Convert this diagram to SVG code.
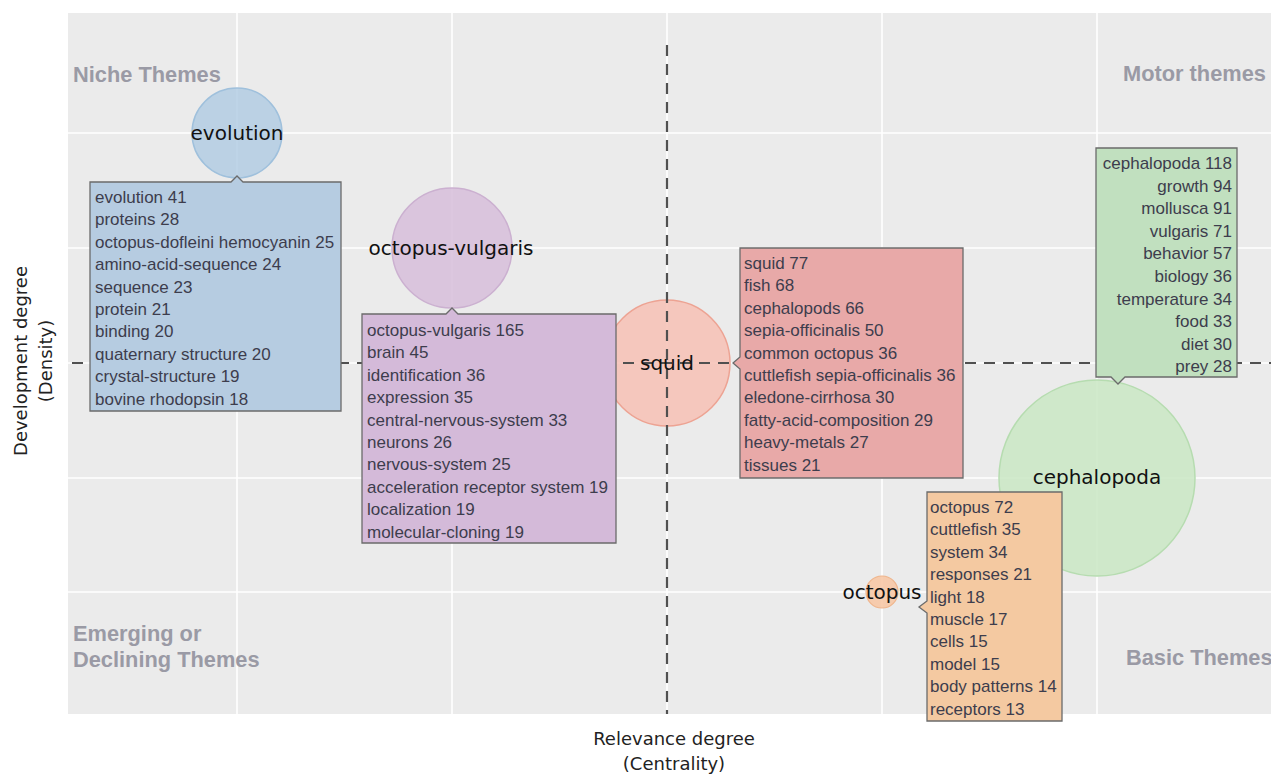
<svg xmlns="http://www.w3.org/2000/svg" width="1271" height="774" viewBox="0 0 1271 774">
<style>
.grid{stroke:#ffffff;stroke-width:1.6;fill:none}
.axis{stroke:#505050;stroke-width:2.2;stroke-dasharray:11 8;fill:none}
.quad{font-family:"Liberation Sans",Arial,sans-serif;font-weight:bold;font-size:21.8px;fill:#9a9aa5}
.axlab{font-family:"DejaVu Sans",Verdana,sans-serif;font-size:18px;fill:#222}
.blab{font-family:"DejaVu Sans",Verdana,sans-serif;font-size:20px;fill:#111;text-anchor:middle}
.tip{stroke:#6b6b6b;stroke-width:1.3}
.tt{font-family:"Liberation Sans",Arial,sans-serif;font-size:17px;fill:#3d3d4d}
</style>
<rect x="0" y="0" width="1271" height="774" fill="#ffffff"/>
<g id="plot-background">
<rect x="68" y="13" width="1203" height="701" fill="#ebebeb"/>
<path class="grid" d="M237,13V714M452,13V714M667,13V714M882,13V714M1097,13V714M68,133H1271M68,248H1271M68,363H1271M68,478H1271M68,592H1271"/>
</g>
<g id="quadrant-labels">
<text class="quad" x="73" y="82">Niche Themes</text>
<text class="quad" x="1123" y="81">Motor themes</text>
<text class="quad" x="73" y="641">Emerging or</text>
<text class="quad" x="73" y="667">Declining Themes</text>
<text class="quad" x="1126" y="665">Basic Themes</text>
</g>
<g id="axis-titles">
<text class="axlab" x="674" y="745" text-anchor="middle">Relevance degree</text>
<text class="axlab" x="674" y="770" text-anchor="middle">(Centrality)</text>
<text class="axlab" transform="translate(27,361) rotate(-90)" text-anchor="middle">Development degree</text>
<text class="axlab" transform="translate(52,361) rotate(-90)" text-anchor="middle">(Density)</text>
</g>
<g id="bubble-evolution">
<circle cx="237" cy="133" r="45" fill="#b3cde3" fill-opacity="0.85" stroke="#9fc0dc" stroke-width="1.5"/>
</g>
<g id="bubble-octopus-vulgaris">
<circle cx="452" cy="248" r="60" fill="#d8c1dc" fill-opacity="0.9" stroke="#cbb0d0" stroke-width="1.5"/>
</g>
<g id="bubble-squid">
<circle cx="667" cy="363" r="63" fill="#f6c3b8" fill-opacity="0.9" stroke="#eda393" stroke-width="1.5"/>
</g>
<g id="bubble-cephalopoda">
<circle cx="1097" cy="478" r="98" fill="#cce8c6" fill-opacity="0.9" stroke="#b6dcb0" stroke-width="1.5"/>
</g>
<g id="bubble-octopus">
<circle cx="882" cy="592" r="16" fill="#f7c8a6" fill-opacity="0.9" stroke="#efb58c" stroke-width="1.2"/>
</g>
<g id="connectors">
<path class="axis" d="M667,45V714"/>
<path class="axis" d="M72,363H1271"/>
</g>
<g id="bubble-labels">
<text class="blab" x="237" y="140">evolution</text>
<text class="blab" x="451" y="255">octopus-vulgaris</text>
<text class="blab" x="667" y="370">squid</text>
<text class="blab" x="1097" y="484">cephalopoda</text>
<text class="blab" x="882" y="599">octopus</text>
</g>
<g id="tooltip-evolution">
<path class="tip" fill="#b6cce1" d="M90,182H231L237,176L243,182H341V411H90Z"/>
<text class="tt" x="95" y="203"><tspan x="95">evolution 41</tspan><tspan x="95" dy="22.4">proteins 28</tspan><tspan x="95" dy="22.4">octopus-dofleini hemocyanin 25</tspan><tspan x="95" dy="22.4">amino-acid-sequence 24</tspan><tspan x="95" dy="22.4">sequence 23</tspan><tspan x="95" dy="22.4">protein 21</tspan><tspan x="95" dy="22.4">binding 20</tspan><tspan x="95" dy="22.4">quaternary structure 20</tspan><tspan x="95" dy="22.4">crystal-structure 19</tspan><tspan x="95" dy="22.4">bovine rhodopsin 18</tspan></text>
</g>
<g id="tooltip-octopus-vulgaris">
<path class="tip" fill="#d4bad9" d="M362,314H446L452,308L458,314H616V543H362Z"/>
<text class="tt" x="367" y="336"><tspan x="367">octopus-vulgaris 165</tspan><tspan x="367" dy="22.4">brain 45</tspan><tspan x="367" dy="22.4">identification 36</tspan><tspan x="367" dy="22.4">expression 35</tspan><tspan x="367" dy="22.4">central-nervous-system 33</tspan><tspan x="367" dy="22.4">neurons 26</tspan><tspan x="367" dy="22.4">nervous-system 25</tspan><tspan x="367" dy="22.4">acceleration receptor system 19</tspan><tspan x="367" dy="22.4">localization 19</tspan><tspan x="367" dy="22.4">molecular-cloning 19</tspan></text>
</g>
<g id="tooltip-squid">
<path class="tip" fill="#e8a9a8" d="M740,248H963V478H740V369L733,363L740,357Z"/>
<text class="tt" x="744" y="269"><tspan x="744">squid 77</tspan><tspan x="744" dy="22.4">fish 68</tspan><tspan x="744" dy="22.4">cephalopods 66</tspan><tspan x="744" dy="22.4">sepia-officinalis 50</tspan><tspan x="744" dy="22.4">common octopus 36</tspan><tspan x="744" dy="22.4">cuttlefish sepia-officinalis 36</tspan><tspan x="744" dy="22.4">eledone-cirrhosa 30</tspan><tspan x="744" dy="22.4">fatty-acid-composition 29</tspan><tspan x="744" dy="22.4">heavy-metals 27</tspan><tspan x="744" dy="22.4">tissues 21</tspan></text>
</g>
<g id="tooltip-cephalopoda">
<path class="tip" fill="#c1e0bf" d="M1096,148H1237V377H1125L1118,384L1111,377H1096Z"/>
<text class="tt" x="1232" y="169" text-anchor="end"><tspan x="1232">cephalopoda 118</tspan><tspan x="1232" dy="22.6">growth 94</tspan><tspan x="1232" dy="22.6">mollusca 91</tspan><tspan x="1232" dy="22.6">vulgaris 71</tspan><tspan x="1232" dy="22.6">behavior 57</tspan><tspan x="1232" dy="22.6">biology 36</tspan><tspan x="1232" dy="22.6">temperature 34</tspan><tspan x="1232" dy="22.6">food 33</tspan><tspan x="1232" dy="22.6">diet 30</tspan><tspan x="1232" dy="22.6">prey 28</tspan></text>
</g>
<g id="tooltip-octopus">
<path class="tip" fill="#f4c9a1" d="M927,492H1062V721H927V613L919,607L927,601Z"/>
<text class="tt" x="930" y="513"><tspan x="930">octopus 72</tspan><tspan x="930" dy="22.4">cuttlefish 35</tspan><tspan x="930" dy="22.4">system 34</tspan><tspan x="930" dy="22.4">responses 21</tspan><tspan x="930" dy="22.4">light 18</tspan><tspan x="930" dy="22.4">muscle 17</tspan><tspan x="930" dy="22.4">cells 15</tspan><tspan x="930" dy="22.4">model 15</tspan><tspan x="930" dy="22.4">body patterns 14</tspan><tspan x="930" dy="22.4">receptors 13</tspan></text>
</g>
</svg>
